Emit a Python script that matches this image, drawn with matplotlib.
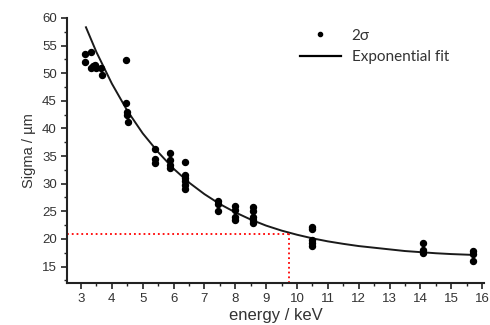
import matplotlib
matplotlib.use('Agg')
import matplotlib.pyplot as plt
from matplotlib.lines import Line2D
from matplotlib.ticker import MultipleLocator

plt.rcParams['font.family'] = ['Liberation Sans', 'DejaVu Sans']

# measured points (energy in keV, 2 sigma in um)
energy = [3.13, 3.13, 3.32, 3.32, 3.40, 3.45, 3.50, 3.66, 3.68,
          4.46, 4.46, 4.48, 4.50, 4.51,
          5.40, 5.40, 5.40,
          5.88, 5.88, 5.88, 5.88,
          6.37, 6.37, 6.37, 6.37, 6.37, 6.37,
          7.45, 7.45, 7.45,
          8.00, 8.00, 8.00, 8.00,
          8.58, 8.58, 8.58, 8.58, 8.58,
          10.50, 10.50, 10.50, 10.50, 10.50,
          14.10, 14.10, 14.10,
          15.70, 15.70, 15.70]
sigma = [53.5, 52.1, 53.9, 51.0, 51.2, 51.5, 50.9, 51.0, 49.7,
         52.4, 44.6, 43.0, 42.4, 41.2,
         36.2, 34.4, 33.7,
         35.6, 34.2, 33.3, 32.8,
         33.9, 31.6, 31.0, 30.4, 29.8, 29.1,
         26.8, 26.3, 25.0,
         25.9, 25.2, 23.9, 23.4,
         25.8, 25.1, 24.0, 23.4, 22.8,
         22.2, 21.7, 19.8, 19.3, 18.8,
         19.2, 17.9, 17.4,
         17.8, 17.3, 16.0]

# exponential fit curve
fit_x = [3.16, 3.5, 4.0, 4.5, 5.0, 5.5, 6.0, 6.5, 7.0, 7.5, 8.0, 8.5, 9.0,
         9.5, 10.0, 10.5, 11.0, 11.5, 12.0, 12.5, 13.0, 13.5, 14.0, 14.5,
         15.0, 15.7]
fit_y = [58.3, 53.8, 48.1, 43.2, 39.1, 35.7, 32.7, 30.2, 28.1, 26.3, 24.8,
         23.5, 22.4, 21.5, 20.75, 20.1, 19.55, 19.1, 18.7, 18.4, 18.1, 17.8,
         17.6, 17.4, 17.25, 17.1]

# marked point on the fit
mark_x = 9.75
mark_y = 20.8

fig = plt.figure(figsize=(4.9, 3.25), dpi=100)
ax = fig.add_axes([0.137, 0.129, 0.85, 0.816])

ax.plot(energy, sigma, 'o', color='black', markersize=4.3, zorder=3)
ax.plot(fit_x, fit_y, '-', color='#1a1a1a', linewidth=1.4, zorder=2)

ax.plot([2.55, mark_x], [mark_y, mark_y], ':', color='red', linewidth=1.3)
ax.plot([mark_x, mark_x], [12, mark_y], ':', color='red', linewidth=1.3)

ax.set_xlim(2.55, 16.05)
ax.set_ylim(12, 60)
ax.xaxis.set_major_locator(MultipleLocator(1))
ax.xaxis.set_minor_locator(MultipleLocator(0.5))
ax.yaxis.set_major_locator(MultipleLocator(5))
ax.yaxis.set_minor_locator(MultipleLocator(2.5))

for s in ['top', 'right']:
    ax.spines[s].set_visible(False)
for s in ['left', 'bottom']:
    ax.spines[s].set_linewidth(1.5)
    ax.spines[s].set_color('#222222')

ax.tick_params(which='major', direction='out', length=4, width=1.2,
               labelsize=9.5, labelcolor='#333333', color='#222222')
ax.tick_params(which='minor', direction='out', length=2.5, width=1.0,
               color='#222222')

ax.set_xlabel('energy / keV', fontsize=12, color='#333333', labelpad=2)
ax.set_ylabel('Sigma / µm', fontsize=10.5, color='#333333', labelpad=4)

handles = [Line2D([], [], marker='o', linestyle='none', color='black', markersize=3),
           Line2D([], [], color='black', linewidth=1.6)]
fig.legend(handles, ['2σ', 'Exponential fit'], loc='upper left',
           bbox_to_anchor=(0.596, 0.935), frameon=False,
           prop={'family': ['Lato', 'DejaVu Sans'], 'size': 11},
           handlelength=2.7, handletextpad=0.7, labelspacing=0.5,
           borderpad=0, labelcolor='#333333')

fig.savefig('out.png', dpi=100)
